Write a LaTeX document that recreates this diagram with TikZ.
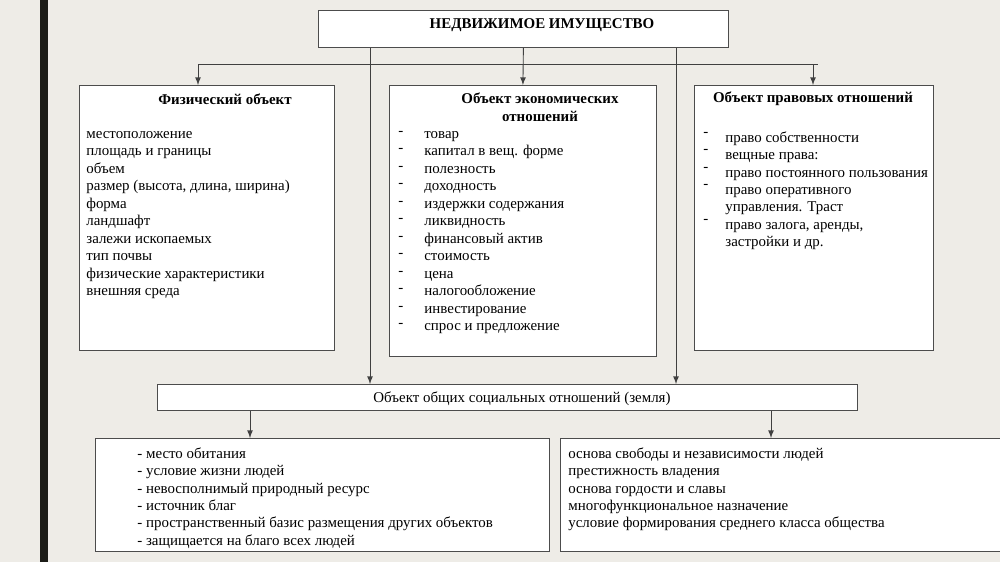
\documentclass[tikz,border=0pt]{standalone}
\usepackage{fontspec}
\setmainfont{Liberation Serif}
\usetikzlibrary{positioning,arrows}

\definecolor{paper}{HTML}{EEECE7}
\definecolor{barcol}{HTML}{1C1C17}

\tikzset{
  box/.style={draw=black!70,fill=white,inner sep=0pt,anchor=north west,line width=0.5pt},
  list/.style={align=left,anchor=north west,inner sep=0pt,font=\fontsize{8.5}{9.95}\selectfont},
  head/.style={font=\fontsize{8.5}{9.95}\selectfont\bfseries,align=center,inner sep=0pt},
  link/.style={draw=black!75,line width=0.5pt},
  arr/.style={link,-latex}
}

\begin{document}
\begin{tikzpicture}[x=0.02cm,y=-0.02cm]
\useasboundingbox (0,0) rectangle (1000,562);
\fill [paper] (0,0) rectangle (1000,562);
\fill [barcol] (40,0) rectangle (48,562);
% top
\node (top) [box,minimum width=8.2cm,minimum height=0.74cm] at (318,10) {};
\node (toptxt) [head] at (542,25) {НЕДВИЖИМОЕ ИМУЩЕСТВО};
% three objects
\node (phys) [box,minimum width=5.1cm,minimum height=5.3cm] at (79,85) {};
\node (econ) [box,minimum width=5.34cm,minimum height=5.42cm] at (389,85) {};
\node (law) [box,minimum width=4.78cm,minimum height=5.3cm] at (694,85) {};
\node (soc) [box,minimum width=14cm,minimum height=0.52cm] at (157,384) {};
\node (left) [box,minimum width=9.08cm,minimum height=2.26cm] at (95,438) {};
\node (right) [box,minimum width=8.9cm,minimum height=2.26cm] at (560,438) {};
% connectors
\coordinate (bl) at (198,64);
\coordinate (br) at (818,64);
\draw [link] (bl) -- (br);
\draw [arr] (top.south) -- (econ.north);
\draw [arr] (bl) -- (phys.north -| bl);
\draw [arr] (813,64) -- (law.north -| 813,0);
\draw [arr] (top.south -| 370,0) -- (soc.north -| 370,0);
\draw [arr] (top.south -| 676,0) -- (soc.north -| 676,0);
\draw [arr] (soc.south -| 250,0) -- (left.north -| 250,0);
\draw [arr] (soc.south -| 771,0) -- (right.north -| 771,0);
% texts
\node (physh) [head] at (225,99) {Физический объект};
\node (physl) [list] at (86,131) {местоположение\\площадь и границы\\объем\\размер (высота, длина, ширина)\\форма\\ландшафт\\залежи ископаемых\\тип почвы\\физические характеристики\\внешняя среда};
\node (econh) [head] at (540,107) {Объект экономических\\отношений};
\node (econd) [list] at (398,131) {-\\-\\-\\-\\-\\-\\-\\-\\-\\-\\-\\-};
\node (econl) [list] at (424,131) {товар\\капитал в вещ. форме\\полезность\\доходность\\издержки содержания\\ликвидность\\финансовый актив\\стоимость\\цена\\налогообложение\\инвестирование\\спрос и предложение};
\node (lawh) [head] at (813,99) {Объект правовых отношений};
\node (lawd) [list] at (703,132) {-\\-\\-\\-\\\\-};
\node (lawl) [list] at (725,131) {право собственности\\вещные права:\\право постоянного пользования\\право оперативного\\управления. Траст\\право залога, аренды,\\застройки и др.};
\node (soct) [list,anchor=center] at (522,399) {Объект общих социальных отношений (земля)};
\node (leftl) [list] at (137,447) {- место обитания\\- условие жизни людей\\- невосполнимый природный ресурс\\- источник благ\\- пространственный базис размещения других объектов\\- защищается на благо всех людей};
\node (rightl) [list] at (568,447) {основа свободы и независимости людей\\престижность владения\\основа гордости и славы\\многофункциональное назначение\\условие формирования среднего класса общества};
\end{tikzpicture}
\end{document}
